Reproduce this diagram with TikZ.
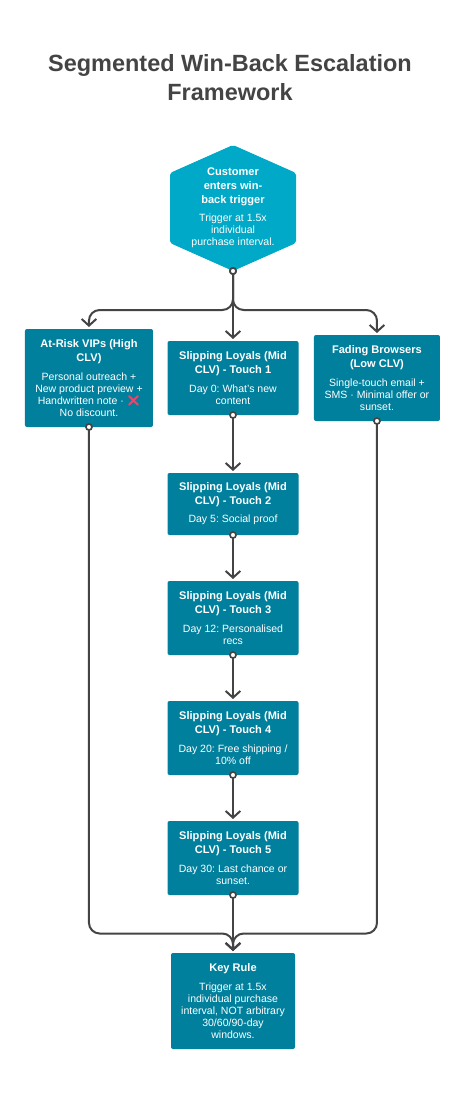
\documentclass[tikz,border=0pt]{standalone}
\usepackage{fontspec}
\usepackage{xcolor}
\usetikzlibrary{arrows.meta,positioning,calc}
\setmainfont{Liberation Sans}
\newfontfamily\emojifont{Noto Emoji}
\definecolor{hexblue}{RGB}{0,169,199}
\definecolor{boxteal}{RGB}{0,128,157}
\definecolor{linegray}{RGB}{68,68,68}
\definecolor{crossred}{RGB}{240,70,110}
\frenchspacing
\newcommand{\boxtext}[2]{{\fontsize{8.3}{10.5}\selectfont\bfseries #1\par}\vspace{4.6pt}{\fontsize{7.9}{9}\selectfont #2\par}}

\begin{document}
\begin{tikzpicture}[
    x=0.75pt, y=-0.75pt,
    flowbox/.style={
      rectangle, rounded corners=1.5pt, fill=boxteal, text=white,
      inner sep=0pt, outer sep=0pt, text width=92pt, align=flush center
    },
    touchbox/.style={flowbox, minimum width=98.25pt, minimum height=#1},
    hexbox/.style={
      inner sep=0pt, outer sep=0pt, text=white, text width=80pt, align=flush center,
      minimum width=94.5pt, minimum height=94.5pt,
      path picture={
        \fill[hexblue, rounded corners=1.5pt]
          (path picture bounding box.north)
          -- ($(path picture bounding box.north east)+(0,28)$)
          -- ($(path picture bounding box.south east)+(0,-28)$)
          -- (path picture bounding box.south)
          -- ($(path picture bounding box.south west)+(0,-28)$)
          -- ($(path picture bounding box.north west)+(0,28)$)
          -- cycle;
      }
    },
    arrow/.style={
      {Circle[open, length=5.8pt, width=5.8pt, fill=white, line width=1.25pt]}-{Straight Barb[length=5pt, width=11pt, line width=1.5pt]},
      line width=1.5pt, draw=linegray, rounded corners=8pt,
      shorten <=-2.9pt, shorten >=1.5pt
    }
  ]
  \fill[white] (0,0) rectangle (466,1098);
  \useasboundingbox (0,0) rectangle (466,1098);

  \node[text=linegray, align=flush center, text width=330pt, font=\fontsize{17.6}{21.75}\selectfont\bfseries] (title) at (230,78)
    {Segmented Win-Back Escalation\\Framework};

  \node[hexbox] (trigger) at (233,208)
    {\boxtext{Customer\\enters win-\\back trigger}{Trigger at 1.5x\\individual\\purchase interval.}};
  \node[touchbox=55.5pt, below=52.5pt of trigger] (touch1)
    {\boxtext{Slipping Loyals (Mid\\CLV) - Touch 1}{Day 0: What's new\\content}};
  \node[touchbox=46.5pt, below=43.5pt of touch1] (touch2)
    {\boxtext{Slipping Loyals (Mid\\CLV) - Touch 2}{Day 5: Social proof}};
  \node[touchbox=55.5pt, below=34.5pt of touch2] (touch3)
    {\boxtext{Slipping Loyals (Mid\\CLV) - Touch 3}{Day 12: Personalised\\recs}};
  \node[touchbox=55.5pt, below=34.5pt of touch3] (touch4)
    {\boxtext{Slipping Loyals (Mid\\CLV) - Touch 4}{Day 20: Free shipping /\\10\% off}};
  \node[touchbox=55.5pt, below=34.5pt of touch4] (touch5)
    {\boxtext{Slipping Loyals (Mid\\CLV) - Touch 5}{Day 30: Last chance or\\sunset.}};

  \node[flowbox, minimum width=96pt, minimum height=73.5pt, left=10.9pt of touch1] (vip)
    {\boxtext{At-Risk VIPs (High\\CLV)}{Personal outreach +\\New product preview +\\Handwritten note · {\emojifont\textcolor{crossred}{❌}}\\No discount.}};
  \node[flowbox, minimum width=94.5pt, minimum height=64.5pt, right=11.6pt of touch1] (fading)
    {\boxtext{Fading Browsers\\(Low CLV)}{Single-touch email +\\SMS · Minimal offer or\\sunset.}};
  \node[flowbox, text width=88pt, minimum width=93pt, minimum height=72pt, below=43.5pt of touch5] (keyrule)
    {\boxtext{Key Rule}{Trigger at 1.5x\\individual purchase\\interval, NOT arbitrary\\30/60/90-day\\windows.}};

  \coordinate (split) at ($(trigger.south)+(0,39)$);
  \coordinate (merge) at ($(keyrule.north)+(0,-19.5)$);

  \draw[arrow] (trigger.south) -- (split) -| (vip.north);
  \draw[arrow] (trigger.south) -- (touch1.north);
  \draw[arrow] (trigger.south) -- (split) -| (fading.north);

  \draw[arrow] (touch1.south) -- (touch2.north);
  \draw[arrow] (touch2.south) -- (touch3.north);
  \draw[arrow] (touch3.south) -- (touch4.north);
  \draw[arrow] (touch4.south) -- (touch5.north);
  \draw[arrow] (touch5.south) -- (keyrule.north);

  \draw[arrow] (vip.south) |- (merge) -- (keyrule.north);
  \draw[arrow] (fading.south) |- (merge) -- (keyrule.north);
\end{tikzpicture}
\end{document}
